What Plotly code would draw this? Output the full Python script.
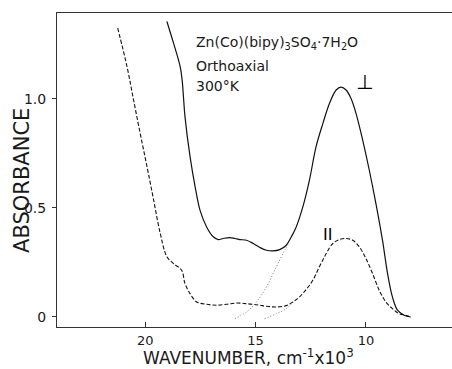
import plotly.graph_objects as go

# Perpendicular polarisation (solid)
perp_x = [19.02, 18.72, 18.42, 18.33, 18.27, 18.20, 17.97, 17.74, 17.52, 17.22, 16.92, 16.69, 16.47,
          16.17, 15.94, 15.71, 15.41, 15.11, 14.81, 14.51, 14.21, 13.91, 13.61, 13.38, 13.16, 12.86,
          12.56, 12.26, 11.95, 11.65, 11.35, 11.13, 10.90, 10.68, 10.45, 10.15, 9.85, 9.55, 9.25,
          9.02, 8.80, 8.57, 8.27, 7.97]
perp_y = [1.355, 1.256, 1.149, 1.087, 1.011, 0.919, 0.735, 0.597, 0.490, 0.413, 0.368, 0.355, 0.360,
          0.364, 0.360, 0.355, 0.352, 0.337, 0.319, 0.306, 0.303, 0.309, 0.329, 0.368, 0.413, 0.505,
          0.628, 0.781, 0.888, 0.980, 1.041, 1.054, 1.041, 1.003, 0.934, 0.812, 0.674, 0.521, 0.352,
          0.199, 0.092, 0.031, 0.008, 0.0]

# Parallel polarisation (dashed)
par_x = [21.25, 20.83, 20.53, 20.23, 19.92, 19.62, 19.32, 19.02, 18.72, 18.35, 18.20, 17.97, 17.67,
         17.22, 16.77, 16.32, 15.86, 15.41, 15.11, 14.81, 14.51, 14.06, 13.61, 13.31, 13.01, 12.71,
         12.41, 12.11, 11.80, 11.50, 11.20, 10.90, 10.60, 10.30, 10.00, 9.70, 9.40, 9.10, 8.80,
         8.50, 8.20, 7.97]
par_y = [1.325, 1.149, 0.995, 0.842, 0.689, 0.536, 0.383, 0.276, 0.245, 0.214, 0.153, 0.107, 0.069,
         0.058, 0.054, 0.058, 0.064, 0.061, 0.058, 0.054, 0.049, 0.046, 0.052, 0.069, 0.092, 0.126,
         0.168, 0.230, 0.291, 0.337, 0.355, 0.360, 0.352, 0.322, 0.268, 0.199, 0.123, 0.069, 0.038,
         0.015, 0.008, 0.0]

# Extrapolated band wings (dotted)
ext1_x = [15.94, 15.41, 14.96, 14.51, 14.06, 13.68, 13.46]
ext1_y = [-0.008, 0.023, 0.069, 0.138, 0.230, 0.306, 0.345]
ext2_x = [14.59, 14.06, 13.61, 13.31]
ext2_y = [-0.008, 0.015, 0.038, 0.069]

x_ticks = [20, 15, 10]
x_tick_labels = ["20", "15", "10"]
y_ticks = [0, 0.5, 1.0]
y_tick_labels = ["0", "0.5", "1.0"]

FONT = "DejaVu Sans"
INK = "#1a1a1a"

fig = go.Figure()
fig.add_trace(go.Scatter(x=perp_x, y=perp_y, mode="lines", line=dict(color="#111", width=1.2, shape="spline"),
                         name="perpendicular", showlegend=False))
fig.add_trace(go.Scatter(x=par_x, y=par_y, mode="lines",
                         line=dict(color="#111", width=1.1, dash="4px,2px", shape="spline"),
                         name="parallel", showlegend=False))
fig.add_trace(go.Scatter(x=ext1_x, y=ext1_y, mode="lines",
                         line=dict(color="#777", width=1, dash="1px,2px", shape="spline"), showlegend=False))
fig.add_trace(go.Scatter(x=ext2_x, y=ext2_y, mode="lines",
                         line=dict(color="#777", width=1, dash="1px,2px", shape="spline"), showlegend=False))

fig.update_layout(
    width=452, height=369,
    margin=dict(l=57, r=0, t=13, b=42),
    paper_bgcolor="white", plot_bgcolor="white",
    font=dict(family=FONT, color=INK, size=13),
    xaxis=dict(range=[24.0, 6.1], tickvals=x_ticks, ticktext=x_tick_labels,
               showgrid=False, zeroline=False, showline=True, linecolor="#333", linewidth=1,
               mirror=True, ticks="inside", ticklen=5, tickcolor="#333",
               ticklabelstandoff=1, tickfont=dict(size=13, color=INK)),
    yaxis=dict(range=[-0.046, 1.394], tickvals=y_ticks, ticktext=y_tick_labels,
               showgrid=False, zeroline=False, showline=True, linecolor="#333", linewidth=1,
               ticks="outside", ticklen=4, tickcolor="#333",
               ticklabelstandoff=3, tickfont=dict(size=14, color=INK)),
    annotations=[
        dict(text="ABSORBANCE", xref="paper", yref="paper", x=-0.089, y=0.468, textangle=-90,
             showarrow=False, font=dict(size=21, color=INK), xanchor="center", yanchor="middle"),
        dict(text="WAVENUMBER, cm<sup>-1</sup>x10<sup>3</sup>", xref="paper", yref="paper",
             x=0.485, y=-0.097, showarrow=False, font=dict(size=17, color=INK),
             xanchor="center", yanchor="middle"),
        dict(text="Zn(Co)(bipy)<sub>3</sub>SO<sub>4</sub>·7H<sub>2</sub>O", x=17.8, y=1.256,
             showarrow=False, xanchor="left", yanchor="middle", font=dict(size=14, color=INK)),
        dict(text="Orthoaxial", x=17.8, y=1.149, showarrow=False, xanchor="left", yanchor="middle",
             font=dict(size=14, color=INK)),
        dict(text="300°K", x=17.8, y=1.057, showarrow=False, xanchor="left", yanchor="middle",
             font=dict(size=14, color=INK)),
        dict(text="⊥", x=10.08, y=1.079, showarrow=False, font=dict(size=20, color="#000")),
        dict(text="II", x=11.73, y=0.38, showarrow=False, font=dict(size=16, color="#000")),
    ],
)

fig.write_html("out.html")
